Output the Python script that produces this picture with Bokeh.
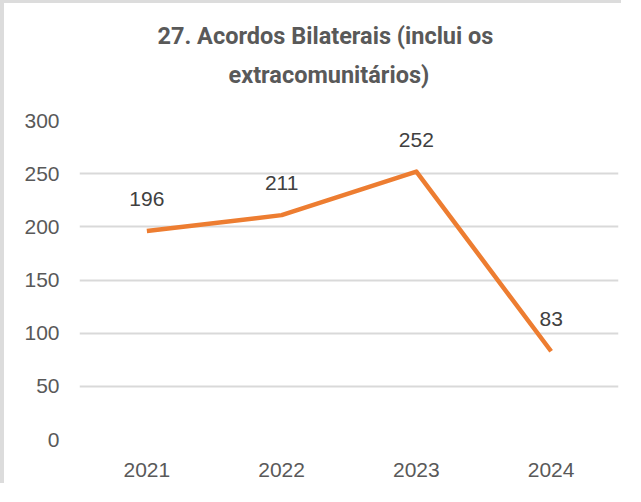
from bokeh.plotting import figure
from bokeh.models import Title, ColumnDataSource
from bokeh.embed import file_html
from bokeh.resources import INLINE
from bokeh.core.properties import value

years = ["2021", "2022", "2023", "2024"]
acordos = [196, 211, 252, 83]
y_ticks = [0, 50, 100, 150, 200, 250, 300]
title_lines = ["27. Acordos Bilaterais (inclui os", "extracomunitários)"]

src = ColumnDataSource(dict(x=years, y=acordos, t=[str(v) for v in acordos]))

p = figure(x_range=years, y_range=(0, 300), width=621, height=483,
           output_backend="svg", toolbar_location=None,
           min_border_left=75, min_border_right=7, min_border_top=117, min_border_bottom=47,
           styles={"border-top": "3px solid #dcdcdc", "border-left": "4px solid #dcdcdc"})
p.outline_line_color = None
p.background_fill_color = "white"
p.border_fill_color = "white"

p.line("x", "y", source=src, line_color="#ED7D31", line_width=4.5, line_join="round")
p.text("x", "y", text="t", source=src, text_align="center", text_baseline="middle",
       y_offset=-32, text_font=value("Liberation Sans"), text_font_size="21px",
       text_color="#404040")

p.yaxis.ticker = y_ticks
p.ygrid.ticker = y_ticks
p.ygrid.grid_line_color = "#d9d9d9"
p.ygrid.grid_line_width = 2
p.xgrid.grid_line_color = None
for ax in (p.xaxis, p.yaxis):
    ax.axis_line_color = None
    ax.major_tick_line_color = None
    ax.minor_tick_line_color = None
    ax.major_tick_out = 0
    ax.major_tick_in = 0
    ax.major_label_text_font = "Liberation Sans"
    ax.major_label_text_font_size = "21px"
    ax.major_label_text_color = "#595959"
p.yaxis.major_label_standoff = 20
p.xaxis.major_label_standoff = 23

title_font = "Roboto"
p.title.text = title_lines[0]
p.title.align = "left"
p.title.offset = 78
p.title.standoff = -45
p.title.text_font = title_font
p.title.text_font_style = "bold"
p.title.text_font_size = "23.5px"
p.title.text_color = "#595959"
p.add_layout(Title(text=title_lines[1], align="left", offset=149, standoff=63,
                   text_font=title_font, text_font_style="bold",
                   text_font_size="23.5px", text_color="#595959"), "above")

open("out.html", "w").write(file_html(p, INLINE))
